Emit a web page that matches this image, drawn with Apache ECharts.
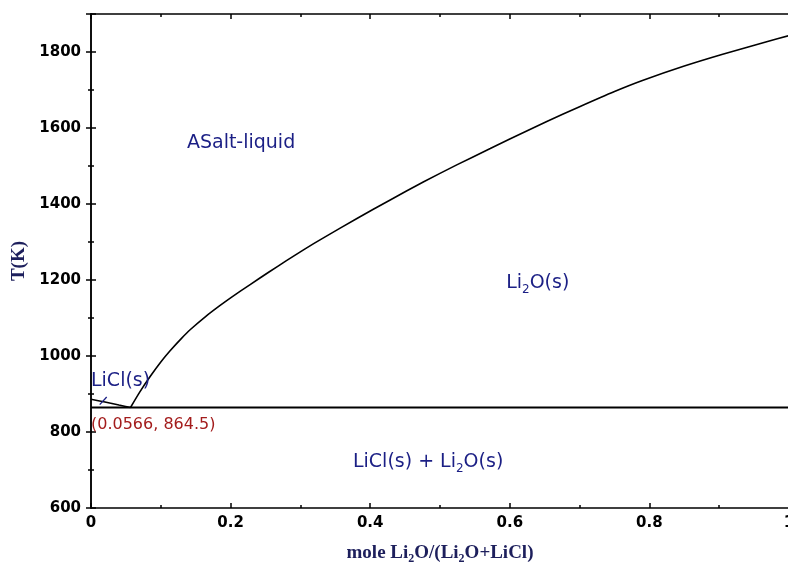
<!DOCTYPE html>
<html>
<head>
<meta charset="utf-8">
<script src="https://cdn.jsdelivr.net/npm/echarts@6/dist/echarts.min.js"></script>
<style>
  html, body { margin: 0; padding: 0; background: #fff; }
  #chart { width: 788px; height: 567px; }
</style>
</head>
<body>
<div id="chart"></div>
<script>
// Li2O–LiCl phase diagram: liquidus curves and eutectic isotherm
const li2oLiquidusX = [0.0566, 0.07, 0.085, 0.1, 0.113, 0.13, 0.142, 0.165, 0.185, 0.2, 0.228, 0.255, 0.28, 0.305, 0.333, 0.381, 0.428, 0.476, 0.524, 0.572, 0.6, 0.653, 0.7, 0.75, 0.79, 0.85, 0.905, 0.968, 1.0];
const li2oLiquidusT = [864.5, 905.5, 946.5, 984, 1013, 1047, 1069, 1105, 1133, 1153, 1188, 1221, 1251, 1280, 1311, 1362, 1410, 1458, 1503, 1546, 1571, 1617, 1656, 1696, 1725, 1763, 1794, 1827, 1843];

const liclLiquidusX = [0, 0.02, 0.04, 0.0566];
const liclLiquidusT = [886, 879, 871, 864.5];

const eutecticX = [0, 1];
const eutecticT = [864.5, 864.5];

// short pointer from the LiCl(s) label to its liquidus
const pointerX = [0.0125, 0.0225];
const pointerT = [872, 892];

// region and point annotations: [x, T, text]
const regionLabels = [
  [0.215, 1561, '{a|ASalt-liquid}'],
  [0.640, 1192, '{a|Li}{s|2}{a|O(s)}'],
  [0.483, 721, '{a|LiCl(s) + Li}{s|2}{a|O(s)}']
];
const liclLabel = [0, 934, '{a|LiCl(s)}'];
const eutecticLabel = [0, 818, '(0.0566, 864.5)'];

const zip = (xs, ys) => xs.map((x, i) => [x, ys[i]]);

const chart = echarts.init(document.getElementById('chart'), null, { renderer: 'canvas' });

const navy = '#1b1f85';
const titleColor = '#1d1f5c';
const tickFont = { color: '#000', fontFamily: 'DejaVu Sans', fontSize: 15, fontWeight: 'bold', formatter: v => String(v) };
const labelRich = {
  a: { fontFamily: 'DejaVu Sans', fontSize: 19, color: navy, lineHeight: 25 },
  s: { fontFamily: 'DejaVu Sans', fontSize: 12, color: navy, lineHeight: 12, verticalAlign: 'bottom' }
};
const axisLine = { show: true, lineStyle: { color: '#000', width: 1.5 } };
const axisTick = { show: true, inside: true, length: 5, lineStyle: { color: '#000', width: 1.5 } };
const minorTick = { show: true, splitNumber: 2, length: 3, lineStyle: { color: '#000', width: 1.5 } };

const titleRich = {
  t: { fontFamily: 'Liberation Serif', fontWeight: 'bold', fontSize: 19, color: titleColor, lineHeight: 24 },
  s: { fontFamily: 'Liberation Serif', fontWeight: 'bold', fontSize: 12, color: titleColor, lineHeight: 12, verticalAlign: 'bottom' }
};

const textSeries = (items, position, label) => ({
  type: 'scatter', symbolSize: 0, silent: true, z: 5,
  itemStyle: { opacity: 1 },
  data: items.map(d => ({ value: [d[0], d[1]], text: d[2] })),
  label: Object.assign({ show: true, position, distance: 0, opacity: 1, formatter: p => p.data.text }, label)
});

chart.setOption({
  animation: false,
  backgroundColor: '#fff',
  grid: { left: 91, top: 14, width: 698, bottom: 59, containLabel: false, outerBoundsMode: 'none' },
  xAxis: [
    {
      type: 'value', min: 0, max: 1, interval: 0.2, position: 'bottom',
      axisLine, axisTick, minorTick,
      splitLine: { show: false },
      axisLabel: Object.assign({ margin: 8 }, tickFont),
      name: '{t|mole Li}{s|2}{t|O/(Li}{s|2}{t|O+LiCl)}',
      nameLocation: 'middle', nameGap: 33,
      nameTextStyle: { rich: titleRich }
    },
    {
      type: 'value', min: 0, max: 1, interval: 0.2, position: 'top',
      axisLine, axisTick, minorTick,
      splitLine: { show: false }, axisLabel: { show: false }
    }
  ],
  yAxis: [
    {
      type: 'value', min: 600, max: 1900, interval: 200, position: 'left',
      axisLine, axisTick, minorTick,
      splitLine: { show: false },
      axisLabel: Object.assign({ margin: 10, showMaxLabel: false }, tickFont),
      name: 'T(K)', nameLocation: 'middle', nameGap: 58, nameRotate: 90,
      nameTextStyle: { fontFamily: 'Liberation Serif', fontWeight: 'bold', fontSize: 19, color: titleColor }
    },
    {
      type: 'value', min: 600, max: 1900, interval: 200, position: 'right',
      axisLine, axisTick, minorTick,
      splitLine: { show: false }, axisLabel: { show: false }
    }
  ],
  series: [
    {
      type: 'line', data: zip(li2oLiquidusX, li2oLiquidusT), smooth: 0.2,
      showSymbol: false, lineStyle: { color: '#000', width: 1.6 }, z: 3
    },
    {
      type: 'line', data: zip(liclLiquidusX, liclLiquidusT), smooth: 0.2,
      showSymbol: false, lineStyle: { color: '#000', width: 1.6 }, z: 3
    },
    {
      type: 'line', data: zip(eutecticX, eutecticT),
      showSymbol: false, lineStyle: { color: '#000', width: 1.8 }, z: 3
    },
    {
      type: 'line', data: zip(pointerX, pointerT),
      showSymbol: false, lineStyle: { color: navy, width: 1.3 }, z: 4
    },
    textSeries(regionLabels, 'inside', { rich: labelRich }),
    textSeries([liclLabel], 'right', { rich: labelRich }),
    textSeries([eutecticLabel], 'right', { fontFamily: 'DejaVu Sans', fontSize: 16, color: '#a31c1c' })
  ]
});
</script>
</body>
</html>
